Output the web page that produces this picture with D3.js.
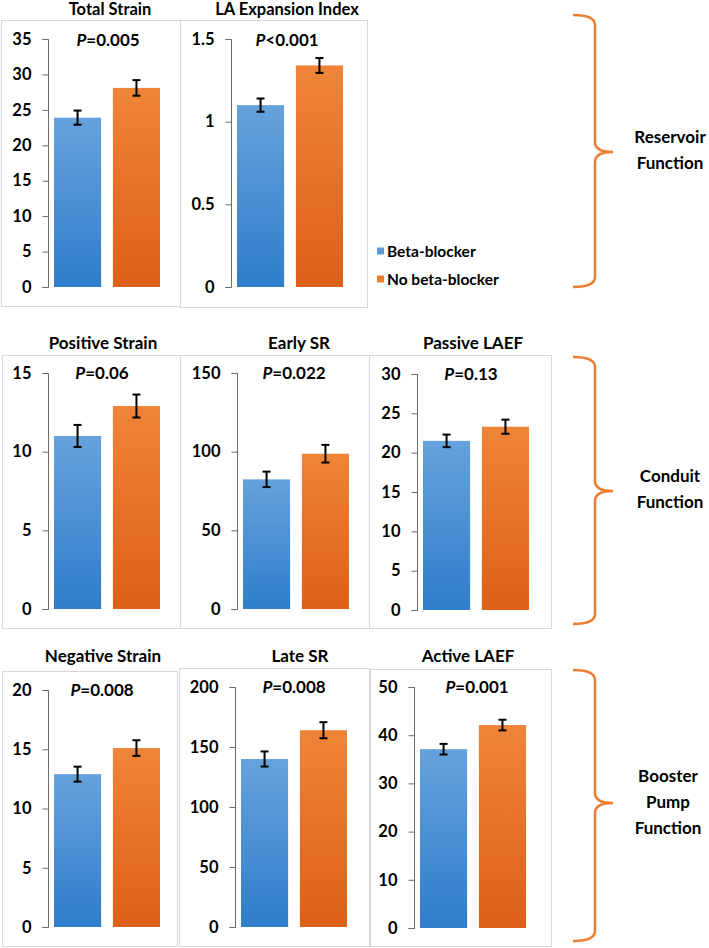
<!DOCTYPE html>
<html><head><meta charset="utf-8">
<script src="https://cdn.jsdelivr.net/npm/d3@7"></script>
<style>
html,body{margin:0;padding:0;background:#fff;}
svg{display:block;}
text{font-family:Lato,"DejaVu Sans",sans-serif;font-weight:bold;fill:#000;}
</style></head>
<body>
<svg id="chart" width="709" height="948"></svg>
<script>
// ---------- data ----------
const seriesNames = ["Beta-blocker", "No beta-blocker"];
const panelTitles = ["Total Strain", "LA Expansion Index", "Positive Strain", "Early SR", "Passive LAEF", "Negative Strain", "Late SR", "Active LAEF"];
const pOperators = ["=", "<", "=", "=", "=", "=", "=", "="];
const pValues = ["0.005", "0.001", "0.06", "0.022", "0.13", "0.008", "0.008", "0.001"];
const betaBlocker = [23.9, 1.10, 11.0, 82.4, 21.5, 12.9, 140, 37.1];
const noBetaBlocker = [28.1, 1.34, 12.9, 98.7, 23.3, 15.1, 164, 42.1];
const betaBlockerErr = [1.0, 0.04, 0.7, 4.9, 0.8, 0.63, 6.3, 1.1];
const noBetaBlockerErr = [1.1, 0.045, 0.73, 5.6, 0.9, 0.66, 6.7, 1.1];
const yMax = [35, 1.5, 15, 150, 30, 20, 200, 50];
const yTicks = [
  [0, 5, 10, 15, 20, 25, 30, 35],
  [0, 0.5, 1, 1.5],
  [0, 5, 10, 15],
  [0, 50, 100, 150],
  [0, 5, 10, 15, 20, 25, 30],
  [0, 5, 10, 15, 20],
  [0, 50, 100, 150, 200],
  [0, 10, 20, 30, 40, 50]
];
const groupLabels = [["Reservoir", "Function"], ["Conduit", "Function"], ["Booster", "Pump", "Function"]];

// ---------- layout ----------
const layout = [
  {box:[1,20,180,306],  ax:48,  y0:287, y1:39,  tx:110, ty:15,  px:108, py:40},
  {box:[180,20,367,307],ax:231, y0:287, y1:39,  tx:287, ty:15,  px:287, py:40},
  {box:[2,355,180,628], ax:48,  y0:609, y1:373, tx:103, ty:349, px:102, py:373},
  {box:[180,355,369,628],ax:237,y0:609, y1:373, tx:299, ty:349, px:294, py:373},
  {box:[369,355,551,628],ax:417,y0:610, y1:374, tx:473, ty:349, px:471, py:374},
  {box:[2,671,177,946], ax:48,  y0:927, y1:690, tx:103, ty:662, px:102, py:690},
  {box:[179,668,369,946],ax:235,y0:927, y1:687, tx:300, ty:662, px:294, py:687},
  {box:[370,669,551,946],ax:414,y0:928, y1:687, tx:468, ty:662, px:477, py:687}
];
const braces = [
  {x0:573, x1:595, x2:613, top:15,  mid:152, bot:287, lx:670, ly:150},
  {x0:573, x1:595, x2:613, top:357, mid:491, bot:624, lx:670, ly:489},
  {x0:573, x1:595, x2:613, top:670, mid:803, bot:941, lx:668, ly:802}
];
const colors = {blue:["#66a2dc","#2f7dcb"], orange:["#ef8439","#dc6015"]};

const svg = d3.select("#chart");
const defs = svg.append("defs");
function grad(id, c){
  const g = defs.append("linearGradient").attr("id", id).attr("x1",0).attr("y1",0).attr("x2",0).attr("y2",1);
  g.append("stop").attr("offset","0%").attr("stop-color",c[0]);
  g.append("stop").attr("offset","100%").attr("stop-color",c[1]);
}
grad("gBlue", colors.blue);
grad("gOrange", colors.orange);
const fills = ["url(#gBlue)", "url(#gOrange)"];

panelTitles.forEach((title, i) => {
  const L = layout[i];
  const g = svg.append("g");
  g.append("rect").attr("x", L.box[0]+0.5).attr("y", L.box[1]+0.5)
    .attr("width", L.box[2]-L.box[0]).attr("height", L.box[3]-L.box[1])
    .attr("fill","none").attr("stroke","#d9d9d9").attr("stroke-width",1);
  g.append("text").attr("x", L.tx).attr("y", L.ty).attr("text-anchor","middle")
    .style("font-size", i < 2 ? "16.5px" : "17px").text(title);

  const y = d3.scaleLinear().domain([0, yMax[i]]).range([L.y0, L.y1]);
  const x = d3.scaleBand().domain(seriesNames).range([L.ax+6, L.ax+112]).paddingInner(0.2).paddingOuter(0);

  const axis = d3.axisLeft(y).tickValues(yTicks[i]).tickSize(6).tickPadding(11).tickFormat(d3.format("~g"));
  const ag = g.append("g").attr("transform", `translate(${L.ax+0.5},0)`).call(axis);
  ag.select(".domain").attr("stroke","#6b6b6b").attr("stroke-width",1).attr("d", `M-6,${L.y1+0.5}H0V${L.y0+0.5}H-6`);
  ag.selectAll(".tick line").attr("stroke","#6b6b6b");
  ag.selectAll(".tick text").style("font-size","16.5px").style("font-family","Lato").style("font-weight","bold").attr("fill","#000");

  const vals = [betaBlocker[i], noBetaBlocker[i]];
  const errs = [betaBlockerErr[i], noBetaBlockerErr[i]];
  g.selectAll("rect.bar").data(seriesNames).enter().append("rect").attr("class","bar")
    .attr("x", d => x(d)).attr("width", x.bandwidth())
    .attr("y", (d,k) => y(vals[k])).attr("height", (d,k) => y(0) - y(vals[k]))
    .attr("fill", (d,k) => fills[k]);

  seriesNames.forEach((s,k) => {
    const cx = x(s) + x.bandwidth()/2;
    const yt = y(vals[k]+errs[k]), yb = y(vals[k]-errs[k]);
    const eg = g.append("g").attr("stroke","#000").attr("stroke-width",2);
    eg.append("line").attr("x1",cx).attr("x2",cx).attr("y1",yt).attr("y2",yb);
    eg.append("line").attr("x1",cx-4).attr("x2",cx+4).attr("y1",yt).attr("y2",yt);
    eg.append("line").attr("x1",cx-4).attr("x2",cx+4).attr("y1",yb).attr("y2",yb);
  });

  const pt = g.append("text").attr("x", L.px).attr("y", L.py).attr("dy","0.36em")
    .attr("text-anchor","middle").style("font-size","17px");
  pt.append("tspan").style("font-style","italic").text("P");
  pt.append("tspan").text(pOperators[i] + pValues[i]);
});

// legend
const lg = svg.append("g");
seriesNames.forEach((s,k) => {
  const yy = 251 + k*28;
  lg.append("rect").attr("x",377).attr("y",yy-3.5).attr("width",7).attr("height",7)
    .attr("fill", k===0 ? "#5b9bd5" : "#ed7d31");
  lg.append("text").attr("x",387).attr("y",yy).attr("dy","0.36em").style("font-size","15.5px").text(s);
});

// braces
braces.forEach((b, i) => {
  const r = 10;
  const p = d3.path();
  p.moveTo(b.x0, b.top);
  p.quadraticCurveTo(b.x1, b.top, b.x1, b.top + r);
  p.lineTo(b.x1, b.mid - r);
  p.quadraticCurveTo(b.x1, b.mid, b.x2, b.mid);
  p.quadraticCurveTo(b.x1, b.mid, b.x1, b.mid + r);
  p.lineTo(b.x1, b.bot - r);
  p.quadraticCurveTo(b.x1, b.bot, b.x0, b.bot);
  svg.append("path").attr("d", p.toString()).attr("fill","none")
    .attr("stroke","#ed7d31").attr("stroke-width",2.5);
  const lines = groupLabels[i];
  const lh = 26;
  const t = svg.append("text").attr("text-anchor","middle").style("font-size","17px");
  lines.forEach((ln, j) => {
    t.append("tspan").attr("x", b.lx).attr("y", b.ly + (j - (lines.length-1)/2)*lh).attr("dy","0.36em").text(ln);
  });
});
</script>
</body></html>
